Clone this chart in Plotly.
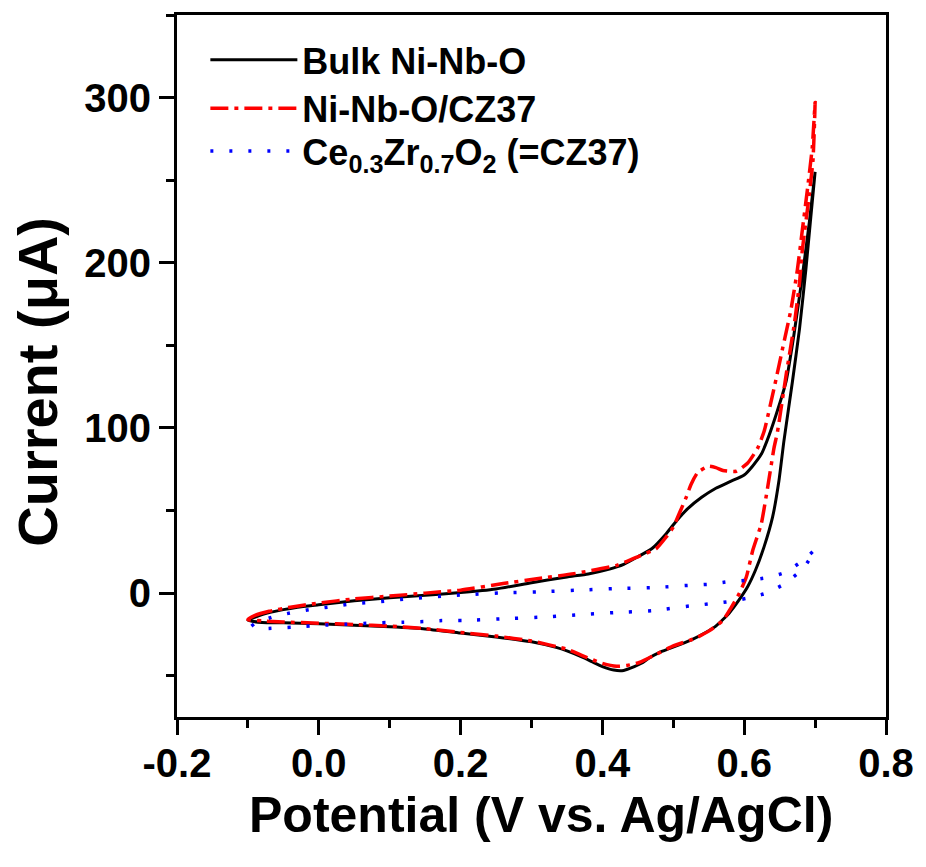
import plotly.graph_objects as go

# Cyclic voltammograms: forward (anodic) sweep followed by the reverse sweep
bulk_x = [-0.1, -0.08, -0.05, -0.03, 0.0, 0.05, 0.1, 0.15, 0.2, 0.25, 0.3, 0.35, 0.38, 0.41,
          0.43, 0.45, 0.47, 0.49, 0.505, 0.52, 0.54, 0.56, 0.58, 0.6, 0.612, 0.624, 0.632,
          0.645, 0.659, 0.67, 0.682, 0.692, 0.7,
          0.694, 0.687, 0.678, 0.668, 0.656, 0.649, 0.64, 0.628, 0.616, 0.605, 0.593, 0.579,
          0.57, 0.56, 0.545, 0.527, 0.51, 0.495, 0.48, 0.467, 0.455, 0.445, 0.43, 0.416, 0.4,
          0.385, 0.37, 0.35, 0.336, 0.3, 0.25, 0.2, 0.15, 0.1, 0.05, 0.0, -0.05, -0.08, -0.1]
bulk_y = [-16.5, -13, -10, -8.5, -7, -4.6, -2.8, -1.3, 0.3, 2.5, 6.3, 9.8, 11.6, 14.5,
          17.4, 22, 27, 36, 44, 51, 58, 63.5, 67.5, 71.5, 77, 84, 92,
          108, 128, 156, 192, 225, 255,
          228, 196, 160, 128, 92, 68, 46, 28, 14, 4, -4, -12,
          -16, -20, -24, -28, -31, -33.5, -36, -39, -42.5, -44.5, -46.8, -46.6, -44.5,
          -41.5, -38.5, -35, -33, -29.5, -26.5, -24.2, -21.7, -20.4, -19.4, -18.6, -18, -17.8,
          -16.5]

nbo_cz_x = [-0.1, -0.09, -0.07, -0.04, 0.0, 0.05, 0.1, 0.15, 0.2, 0.26, 0.31, 0.36, 0.42,
            0.45, 0.476, 0.49, 0.5, 0.509, 0.518, 0.525, 0.534, 0.549, 0.56, 0.57, 0.589,
            0.605, 0.619, 0.628, 0.642, 0.654, 0.666, 0.675, 0.682, 0.689, 0.696, 0.7,
            0.697, 0.69, 0.682, 0.678, 0.671, 0.659, 0.647, 0.642, 0.633, 0.624, 0.612, 0.603,
            0.593, 0.581, 0.57, 0.55, 0.53, 0.5, 0.476, 0.452, 0.435, 0.42, 0.4, 0.387, 0.37,
            0.35, 0.3, 0.25, 0.2, 0.15, 0.1, 0.05, 0.0, -0.05, -0.08, -0.1]
nbo_cz_y = [-16, -13.5, -11, -8.5, -6, -3.5, -1.8, 0, 1.8, 5.8, 8.8, 11.8, 16.8,
            22, 27, 34, 40, 48.8, 57.8, 65.8, 72.8, 76.8, 76, 74.2, 73.8,
            78.8, 87.8, 97.8, 123.8, 147.8, 171.8, 195.8, 219.8, 243.8, 269.8, 297,
            262, 235, 207.8, 187.8, 163.8, 131.8, 97.8, 87.8, 63.8, 41.8, 25.8, 9.8,
            -0.2, -9.2, -16.5, -23, -27.5, -32, -37, -42, -43.8, -44.3, -42.5, -40.5, -37.5,
            -34, -29, -26, -23.8, -21.5, -20, -19, -18.2, -17.5, -16.8, -16]

cz37_x = [-0.095, -0.088, -0.06, -0.035, -0.007, 0.019, 0.047, 0.073, 0.099, 0.126, 0.152,
          0.18, 0.206, 0.259, 0.313, 0.367, 0.42, 0.474, 0.525, 0.551, 0.579, 0.605, 0.633,
          0.659, 0.684, 0.7,
          0.683, 0.656, 0.63, 0.603, 0.577, 0.549, 0.523, 0.47, 0.416, 0.362, 0.311, 0.257,
          0.203, 0.174, 0.148, 0.12, 0.095, 0.07, 0.04, 0.016, -0.011, -0.037, -0.063, -0.091]
cz37_y = [-20, -17.8, -13.8, -11.6, -9.6, -8.2, -6.4, -5.6, -4.6, -3.4, -2.6,
          -1.6, -1.0, 0.2, 0.8, 1.8, 2.8, 3.4, 4.8, 5.4, 7, 7.8, 9.4,
          12.8, 20.2, 26.2,
          14.8, 5.4, -0.2, -3.2, -5.2, -6.6, -7.8, -10.6, -11.8, -13.2, -14.6, -15.6,
          -16.6, -16.6, -17.2, -17.6, -17.8, -18.2, -18.8, -19.2, -19.8, -20.6, -21.2, -21.8]

x_ticks = [-0.2, 0.0, 0.2, 0.4, 0.6, 0.8]
x_ticktext = ["-0.2", "0.0", "0.2", "0.4", "0.6", "0.8"]
y_ticks = [0, 100, 200, 300]

x_title = "Potential (V vs. Ag/AgCl)"
y_title = "Current (μA)"

FONT = "Liberation Sans"

fig = go.Figure()
fig.add_trace(go.Scatter(
    x=bulk_x, y=bulk_y, mode="lines", name="Bulk Ni-Nb-O", legend="legend",
    line=dict(color="black", width=3, shape="spline", smoothing=0.5),
))
fig.add_trace(go.Scatter(
    x=nbo_cz_x, y=nbo_cz_y, mode="lines", name="Ni-Nb-O/CZ37", legend="legend2",
    line=dict(color="#ff0000", width=3.5, dash="18px,6px,4px,6px", shape="spline", smoothing=0.5),
))
fig.add_trace(go.Scatter(
    x=cz37_x, y=cz37_y, mode="lines", legend="legend3",
    name="Ce<sub>0.3</sub>Zr<sub>0.7</sub>O<sub>2</sub> (=CZ37)",
    line=dict(color="#0000ff", width=3.5, dash="3px,16px", shape="spline", smoothing=0.5),
))

axis_common = dict(
    showline=True, linecolor="black", linewidth=3, mirror=True,
    ticks="outside", tickcolor="black", tickwidth=3, ticklen=15,
    showgrid=False, zeroline=False,
    tickfont=dict(family=FONT, size=40, color="black", weight="bold"),
)

fig.update_xaxes(
    range=[-0.2, 0.8], tickvals=x_ticks, ticktext=x_ticktext,
    ticklabelstandoff=-6,
    minor=dict(dtick=0.1, ticks="outside", ticklen=8, tickwidth=3, tickcolor="black"),
    **axis_common,
)
fig.update_yaxes(
    range=[-75, 350], tickvals=y_ticks,
    minor=dict(dtick=50, tick0=0, ticks="outside", ticklen=8, tickwidth=3, tickcolor="black"),
    **axis_common,
)

# Axis titles placed as paper-anchored annotations
fig.add_annotation(
    text=x_title, xref="paper", yref="paper", x=0.513, y=-0.139,
    xanchor="center", yanchor="middle", showarrow=False,
    font=dict(family=FONT, size=50, color="black", weight="bold"),
)
fig.add_annotation(
    text=y_title, xref="paper", yref="paper", x=-0.197, y=0.478,
    xanchor="center", yanchor="middle", showarrow=False, textangle=-90,
    font=dict(family=FONT, size=56, color="black", weight="bold"),
)

legend_style = dict(
    xanchor="left", yanchor="middle", x=0.04,
    bgcolor="rgba(0,0,0,0)", borderwidth=0,
    font=dict(family=FONT, size=36, color="black", weight="bold"),
    itemwidth=87,
)

fig.update_layout(
    width=926, height=867,
    margin=dict(l=177, r=34, t=12, b=150),
    paper_bgcolor="white", plot_bgcolor="white",
    showlegend=True,
    legend=dict(y=0.936, **legend_style),
    legend2=dict(y=0.867, **legend_style),
    legend3=dict(y=0.806, **legend_style),
)

fig.write_html("out.html")
